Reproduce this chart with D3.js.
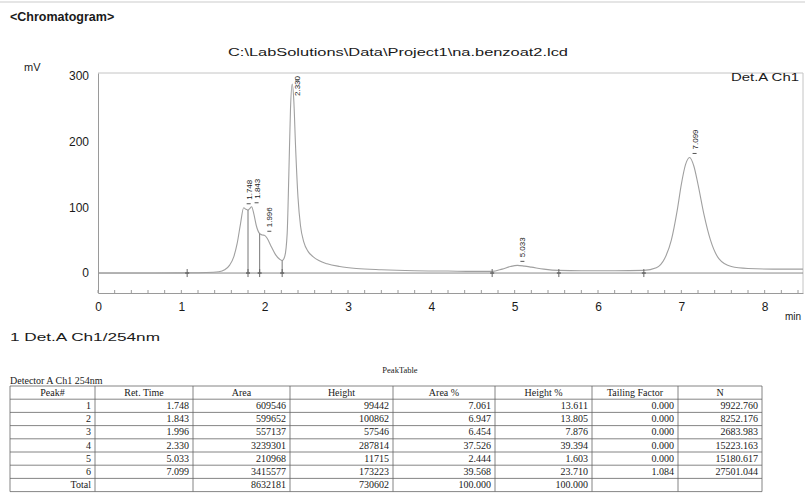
<!DOCTYPE html>
<html>
<head>
<meta charset="utf-8">
<script src="https://cdn.jsdelivr.net/npm/d3@7/dist/d3.min.js"></script>
<style>
  html, body { margin: 0; padding: 0; background: #fff; }
  svg { display: block; }
  .sans { font-family: "Liberation Sans", Arial, sans-serif; fill: #1a1a1a; }
  .serif { font-family: "Liberation Serif", "Times New Roman", serif; fill: #1a1a1a; }
</style>
</head>
<body>
<svg id="chart" width="805" height="496"></svg>
<script>
// ---- detector trace (retention time in min, signal in mV) ----
const traceTime = [0, 0.5, 1.0, 1.3, 1.45, 1.52, 1.58, 1.63, 1.67, 1.71, 1.748, 1.775, 1.80, 1.82, 1.843,
  1.87, 1.90, 1.94, 1.97, 1.996, 2.03, 2.08, 2.13, 2.18, 2.21, 2.24, 2.27, 2.29, 2.31, 2.33, 2.35, 2.37,
  2.40, 2.43, 2.47, 2.52, 2.58, 2.65, 2.75, 2.9, 3.1, 3.4, 3.8, 4.2, 4.5, 4.73, 4.85, 4.95, 5.033, 5.12,
  5.2, 5.35, 5.53, 5.8, 6.2, 6.55, 6.7, 6.8, 6.88, 6.95, 7.0, 7.05, 7.099, 7.15, 7.2, 7.27, 7.35, 7.45,
  7.6, 7.8, 8.1, 8.46];
const traceMV = [0, 0, 0.3, 0.8, 2, 5, 12, 25, 45, 75, 99.4, 97, 96, 98, 100.9,
  90, 72, 60, 58, 57.5, 53, 40, 28, 21, 19, 25, 60, 150, 250, 287.8, 262, 195,
  115, 72, 47, 33, 25, 19, 14, 10, 7, 5, 3.5, 3, 2.5, 2.5, 6, 10, 11.7, 10.5,
  9, 6, 4, 3.5, 3.5, 4, 8, 22, 50, 95, 135, 165, 176, 163, 135, 90, 50, 22,
  10, 7, 6, 6];

// ---- detected peaks ----
const peakRT = [1.748, 1.843, 1.996, 2.330, 5.033, 7.099];
const peakTopMV = [99.4, 100.9, 57.5, 287.8, 11.7, 176];
// integration marks (peak start / end / valley drops)
const markTime = [1.07, 1.80, 1.94, 2.21, 4.73, 5.53, 6.55];
const dropTime = [1.80, 1.94, 2.21];

// ---- axis ticks ----
const yTicks = [0, 100, 200, 300];
const xTicks = [0, 1, 2, 3, 4, 5, 6, 7, 8];

// ---- peak table ----
const tableHeaders = ["Peak#", "Ret. Time", "Area", "Height", "Area %", "Height %", "Tailing Factor", "N"];
const colPeak = ["1", "2", "3", "4", "5", "6", "Total"];
const colRetTime = ["1.748", "1.843", "1.996", "2.330", "5.033", "7.099", ""];
const colArea = ["609546", "599652", "557137", "3239301", "210968", "3415577", "8632181"];
const colHeight = ["99442", "100862", "57546", "287814", "11715", "173223", "730602"];
const colAreaPct = ["7.061", "6.947", "6.454", "37.526", "2.444", "39.568", "100.000"];
const colHeightPct = ["13.611", "13.805", "7.876", "39.394", "1.603", "23.710", "100.000"];
const colTailing = ["0.000", "0.000", "0.000", "0.000", "0.000", "1.084", ""];
const colN = ["9922.760", "8252.176", "2683.983", "15223.163", "15180.617", "27501.044", ""];

const svg = d3.select("#chart");

// page rule and header text
svg.append("line").attr("x1", 0).attr("x2", 805).attr("y1", 2).attr("y2", 2)
  .attr("stroke", "#dcdcdc").attr("stroke-width", 1.5);
svg.append("text").attr("class", "sans").attr("x", 10).attr("y", 21)
  .attr("font-size", 12.5).attr("font-weight", "bold").text("<Chromatogram>");
svg.append("text").attr("class", "sans").attr("x", 228).attr("y", 56)
  .attr("font-size", 10).attr("textLength", 340).attr("lengthAdjust", "spacingAndGlyphs")
  .text("C:\\LabSolutions\\Data\\Project1\\na.benzoat2.lcd");

// scales
const x = d3.scaleLinear().domain([0, 8.46]).range([98, 803]);
const y = d3.scaleLinear().domain([-30.4, 304.6]).range([293, 73]);

const gray = "#9a9a9a";

// frame: top and right edges
svg.append("line").attr("x1", x(0)).attr("x2", x(8.46)).attr("y1", y.range()[1]).attr("y2", y.range()[1])
  .attr("stroke", "#c4c4c4").attr("stroke-width", 1);
svg.append("line").attr("x1", x(8.46)).attr("x2", x(8.46)).attr("y1", y.range()[1]).attr("y2", y.range()[0])
  .attr("stroke", "#c4c4c4").attr("stroke-width", 1);

// y axis
const yAxis = svg.append("g").attr("transform", `translate(${x(0)},0)`)
  .call(d3.axisLeft(y).tickValues(yTicks).tickSize(0).tickPadding(9).tickFormat(d3.format("d")));
yAxis.select(".domain").attr("stroke", gray);
yAxis.selectAll("text").attr("class", "sans").attr("font-size", 12).attr("fill", "#1a1a1a");
svg.append("text").attr("class", "sans").attr("x", 24).attr("y", 71).attr("font-size", 11).text("mV");

// x axis
const xAxis = svg.append("g").attr("transform", `translate(0,${y.range()[0]})`)
  .call(d3.axisBottom(x).tickValues(xTicks).tickSize(0).tickPadding(9).tickFormat(d3.format("d")));
xAxis.select(".domain").attr("stroke", gray);
xAxis.selectAll("text").attr("class", "sans").attr("font-size", 12).attr("fill", "#1a1a1a");
svg.append("g").selectAll("line").data(d3.range(0, 43).map(i => i * 0.2)).join("line")
  .attr("x1", d => x(d)).attr("x2", d => x(d))
  .attr("y1", y.range()[0]).attr("y2", y.range()[0] - 3)
  .attr("stroke", gray);
svg.append("text").attr("class", "sans").attr("x", 793).attr("y", 320)
  .attr("font-size", 10).attr("text-anchor", "middle").text("min");

// integration baseline
svg.append("line").attr("x1", x(0)).attr("x2", x(8.46)).attr("y1", y(0)).attr("y2", y(0))
  .attr("stroke", "#8a8a8a").attr("stroke-width", 1);

// chromatogram trace
const pts = traceTime.map((t, i) => [t, traceMV[i]]);
const line = d3.line().x(d => x(d[0])).y(d => y(d[1])).curve(d3.curveMonotoneX);
svg.append("path").datum(pts).attr("d", line)
  .attr("fill", "none").attr("stroke", "#a0a0a0").attr("stroke-width", 1.1);

// valley drop lines
const interp = t => {
  const i = d3.bisectLeft(traceTime, t);
  if (traceTime[i] === t) return traceMV[i];
  const t0 = traceTime[i - 1], t1 = traceTime[i];
  return traceMV[i - 1] + (traceMV[i] - traceMV[i - 1]) * (t - t0) / (t1 - t0);
};
svg.append("g").selectAll("line").data(dropTime).join("line")
  .attr("x1", d => x(d)).attr("x2", d => x(d))
  .attr("y1", y(0)).attr("y2", d => y(interp(d)))
  .attr("stroke", "#777").attr("stroke-width", 1);

// integration marks
const marks = svg.append("g").selectAll("g").data(markTime).join("g")
  .attr("transform", d => `translate(${x(d)},${y(0)})`);
marks.append("line").attr("y1", -4).attr("y2", 4).attr("stroke", "#666").attr("stroke-width", 1);
marks.append("line").attr("x1", -2).attr("x2", 2).attr("stroke", "#666").attr("stroke-width", 1.5);

// peak labels (retention times, rotated)
const labelTop = y.range()[1] + 3;
const pk = svg.append("g").selectAll("g").data(peakRT).join("g");
pk.append("line")
  .attr("x1", (d, i) => x(d) + 3).attr("x2", (d, i) => x(d) + 7)
  .attr("y1", (d, i) => y(peakTopMV[i]) - 4).attr("y2", (d, i) => y(peakTopMV[i]) - 4)
  .attr("stroke", "#555");
pk.append("text").attr("class", "sans").attr("font-size", 8)
  .attr("transform", (d, i) => {
    const yy = Math.max(y(peakTopMV[i]) - 8, labelTop + 20);
    return `translate(${x(d) + 8},${yy}) rotate(-90)`;
  })
  .text(d => d3.format(".3f")(d));

svg.append("text").attr("class", "sans").attr("x", 731).attr("y", 81)
  .attr("font-size", 10).attr("textLength", 68).attr("lengthAdjust", "spacingAndGlyphs")
  .text("Det.A Ch1");

svg.append("text").attr("class", "sans").attr("x", 10).attr("y", 341)
  .attr("font-size", 10).attr("textLength", 150).attr("lengthAdjust", "spacingAndGlyphs")
  .text("1  Det.A Ch1/254nm");

// ---- peak table ----
svg.append("text").attr("class", "serif").attr("x", 400).attr("y", 373)
  .attr("font-size", 8.5).attr("text-anchor", "middle").text("PeakTable");
svg.append("text").attr("class", "serif").attr("x", 10).attr("y", 384)
  .attr("font-size", 10).text("Detector A Ch1 254nm");

const colEdges = [10, 95, 193, 290, 393, 495, 592, 678, 762];
const columns = [colPeak, colRetTime, colArea, colHeight, colAreaPct, colHeightPct, colTailing, colN];
const tableTop = 386, rowH = 13.2;
const nRows = colPeak.length + 1;
const rowY = d3.scaleLinear().domain([0, nRows]).range([tableTop, tableTop + nRows * rowH]);

const tbl = svg.append("g");
tbl.selectAll("line.h").data(d3.range(nRows + 1)).join("line").attr("class", "h")
  .attr("x1", colEdges[0]).attr("x2", colEdges[colEdges.length - 1])
  .attr("y1", d => rowY(d)).attr("y2", d => rowY(d))
  .attr("stroke", "#666").attr("stroke-width", 0.8);
tbl.selectAll("line.v").data(colEdges).join("line").attr("class", "v")
  .attr("x1", d => d).attr("x2", d => d)
  .attr("y1", rowY(0)).attr("y2", rowY(nRows))
  .attr("stroke", "#666").attr("stroke-width", 0.8);

tbl.selectAll("text.hd").data(tableHeaders).join("text").attr("class", "serif hd")
  .attr("x", (d, i) => (colEdges[i] + colEdges[i + 1]) / 2).attr("y", rowY(0) + rowH - 3.5)
  .attr("font-size", 10).attr("text-anchor", "middle").text(d => d);

columns.forEach((col, c) => {
  tbl.append("g").selectAll("text").data(col).join("text").attr("class", "serif")
    .attr("x", colEdges[c + 1] - 4).attr("y", (d, r) => rowY(r + 1) + rowH - 3.5)
    .attr("font-size", 10).attr("text-anchor", "end").text(d => d);
});
</script>
</body>
</html>
